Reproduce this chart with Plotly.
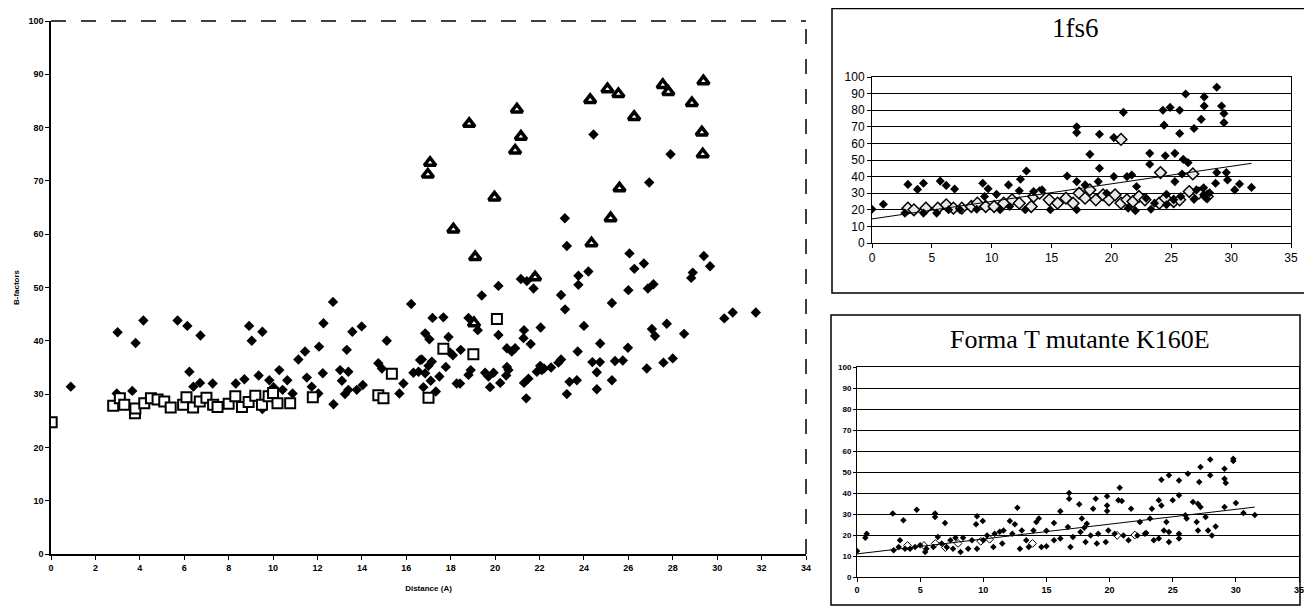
import plotly.graph_objects as go

# ---------------- main chart data ----------------
main_dia_x = [0.89, 2.96, 3.0, 4.16, 3.81, 3.66, 5.7, 6.14, 6.73, 6.23, 6.41, 6.71, 7.28, 8.32, 8.71, 8.92, 9.04, 9.52,
              9.35, 9.52, 9.83, 10.02, 10.28, 10.17, 10.43, 10.64, 10.88, 11.14, 11.44, 11.52, 11.74, 12.07, 12.24, 12.27,
              12.04, 12.72, 13.02, 13.1, 13.32, 13.39, 13.24, 13.39, 13.57, 13.77, 13.99, 14.04, 14.74, 14.9, 15.12, 15.69,
              15.87, 16.22, 16.32, 16.62, 12.7,
              17.18, 17.67, 18.8, 19.22, 16.85, 17.04, 17.9, 17.97, 18.1, 18.45, 16.7, 17.15, 17.0, 16.55, 16.85, 17.78,
              17.49, 17.1, 16.77, 17.33, 18.27, 18.42, 18.8, 18.9, 19.55, 19.7, 19.93, 19.77, 20.23, 20.15, 20.53, 20.75,
              20.9, 20.53, 20.6, 20.5, 21.3, 21.28, 21.6, 21.3, 21.5, 21.4, 21.88, 22.03, 22.1, 22.2, 22.05, 22.52, 22.85,
              22.97, 23.15, 23.35, 23.23, 23.68, 23.72, 24.0, 24.38, 24.72, 24.58, 24.58, 24.73, 25.26, 25.26, 25.4, 25.75,
              25.98, 26.83, 27.06, 27.2, 27.58, 27.73, 28.0, 28.51, 30.32, 30.7, 31.74,
              24.43, 27.9, 26.94, 23.14, 23.23, 26.05, 29.4, 29.68, 26.27, 26.7, 24.2, 23.75, 23.75, 21.16, 21.43, 21.73,
              20.15, 19.4, 22.97, 26.0, 26.88, 27.13, 28.83, 28.9]
main_dia_y = [31.4, 30.1, 41.6, 43.8, 39.6, 30.6, 43.8, 42.8, 41.0, 34.2, 31.4, 32.1, 32.0, 32.0, 32.8, 42.8, 40.0, 41.7,
              33.5, 27.2, 32.6, 31.3, 34.5, 28.3, 30.8, 32.6, 30.1, 36.5, 38.0, 33.1, 31.4, 38.9, 33.9, 43.3,
              30.1, 28.1, 34.5, 32.5, 38.3, 34.2, 30.0, 30.8, 41.7, 30.8, 42.7, 31.7, 35.8, 34.8, 40.0, 30.1,
              32.0, 46.9, 34.0, 36.4, 47.3,
              44.3, 44.4, 44.3, 42.0, 41.4, 40.3, 40.7, 37.8, 37.3, 38.3, 36.5, 36.1, 35.3, 34.2, 33.9, 35.1,
              33.3, 32.5, 31.3, 30.5, 32.0, 32.0, 33.6, 34.5, 34.0, 33.3, 34.0, 31.3, 32.1, 41.1, 38.6, 38.0,
              38.6, 35.1, 34.5, 33.5, 42.0, 40.5, 39.4, 32.1, 32.9, 29.2, 34.2, 35.3, 34.5, 34.8, 42.5, 35.0, 35.9,
              36.5, 45.9, 32.3, 30.0, 32.6, 38.0, 42.8, 36.0, 36.0, 34.1, 30.9, 39.5, 47.1, 32.6, 36.2, 36.3,
              38.7, 34.8, 42.2, 40.9, 35.9, 43.2, 36.7, 41.3, 44.2, 45.3, 45.3,
              78.7, 75.0, 69.7, 63.0, 57.8, 56.4, 55.9, 54.0, 53.5, 54.5, 53.0, 52.2, 50.5, 51.6, 51.2, 49.8,
              50.3, 48.5, 48.6, 49.5, 49.8, 50.6, 51.8, 52.8]

main_tri_x = [17.07, 16.97, 18.83, 20.98, 21.16, 20.9, 19.97, 18.12, 19.1, 21.8, 24.28, 25.06, 25.55, 26.26, 27.55,
              27.8, 28.86, 29.38, 29.31, 29.35, 25.6, 25.2, 24.34, 19.05]
main_tri_y = [73.4, 71.2, 80.7, 83.4, 78.3, 75.7, 66.9, 60.9, 55.7, 51.9, 85.2, 87.2, 86.3, 82.0, 88.0,
              86.7, 84.6, 88.7, 79.1, 75.0, 68.6, 63.0, 58.3, 43.3]

main_sq_x = [0.03, 2.8, 3.1, 3.3, 3.78, 3.8, 4.2, 4.5, 4.8, 5.1, 5.39, 5.95, 6.1, 6.4, 6.7, 7.0, 7.3, 7.5, 8.0, 8.3,
             8.6, 8.9, 9.2, 9.5, 9.8, 10.0, 10.2, 10.77, 11.79, 14.74, 14.97, 15.35, 17.0, 17.67, 19.02, 20.08]
main_sq_y = [24.7, 27.8, 29.2, 28.0, 26.4, 27.3, 28.3, 29.2, 29.0, 28.6, 27.5, 28.0, 29.4, 27.5, 28.6, 29.3, 28.0, 27.6,
             28.2, 29.6, 27.6, 28.5, 29.7, 28.0, 29.6, 30.2, 28.3, 28.3, 29.4, 29.8, 29.2, 33.8, 29.3, 38.5, 37.5, 44.1]

main_x_ticks = list(range(0, 35, 2))
main_y_ticks = list(range(0, 101, 10))

# ---------------- 1fs6 panel data ----------------
top_title = "1fs6"
top_dia_x = [0, 0.95, 3.0, 3.8, 4.3, 5.7, 6.2, 6.9, 9.25, 9.7, 10.4, 11.4, 12.4, 12.9, 12.3, 16.3, 17.1, 17.1, 18.2,
             19.0, 19.0, 20.2, 21.0, 20.2, 21.7, 23.2, 23.2, 24.3, 24.9, 25.7, 26.2, 24.4, 24.5, 25.3, 25.7, 26.0,
             26.4, 26.9, 27.5, 27.75, 27.75, 28.8, 29.2, 29.4, 29.4, 28.8, 29.6, 29.7, 30.3, 30.7, 31.7, 28.7, 28.2,
             27.9, 27.1, 26.9, 25.8, 25.3, 25.9, 25.2, 23.3, 22.9, 22.1, 21.3, 21.4, 19.6, 18.9, 17.8, 17.1, 17.1,
             14.9, 14.2, 13.5, 12.8, 11.5, 10.7, 9.4, 8.75, 7.35, 6.4, 5.4, 4.3, 2.75, 23.6, 24.6, 24.6, 27.7, 27.7,
             22.0]
top_dia_y = [20.3, 23.3, 35.3, 32.3, 36, 37.3, 34.7, 32.5, 36, 32.7, 29.3, 35, 38.4, 43.4, 31.5, 40.4, 70, 66.5, 53.4,
             65.5, 45, 63.5, 78.7, 40, 41, 54, 47.4, 80, 81.7, 80, 89.8, 71, 52.6, 54, 66, 50.4,
             48.4, 69, 74.5, 88, 82.5, 93.8, 82.5, 78, 72.5, 42.4, 42.4, 38, 32, 35.5, 33.5, 36, 30.3,
             27, 32, 26.3, 28, 37, 41.6, 26, 20.3, 27, 34, 40, 21, 30, 37, 35, 20, 37,
             20, 32, 31, 20, 22, 20, 28, 20.3, 20, 20, 18, 18, 18, 24, 23, 29.3, 33.3, 29,
             19.5]
top_open_x = [3.0, 3.5, 4.5, 5.5, 6.2, 6.8, 7.5, 8.3, 8.8, 9.5, 10.2, 11.0, 11.7, 12.3, 13.3, 13.5, 14.0, 14.8, 15.5,
              16.2, 16.8, 17.3, 17.8, 18.2, 18.7, 19.3, 19.8, 20.3, 20.8, 21.3, 21.8, 22.3, 22.8, 24.0, 24.5, 25.2,
              25.7, 26.5, 27.3, 28.0, 24.1, 26.8, 20.8]
top_open_y = [21, 20, 21, 21, 23, 21, 21, 22, 24, 22, 22, 24, 26, 24, 22, 28, 30, 26, 24,
              27, 24, 30, 27, 32, 26, 29, 26, 29, 24, 26, 25, 28, 26, 24, 27, 25,
              26, 31, 30, 28, 42.4, 41.6, 62.4]
top_trend_x = [0, 31.7]
top_trend_y = [14.5, 48]

# ---------------- Forma T mutante K160E panel data ----------------
bot_title = "Forma T mutante K160E"
bot_dia_x = [0, 0.66, 0.77, 2.83, 3.67, 4.73, 6.18, 6.18, 6.97, 9.5, 9.96, 9.43, 12.7, 12.1, 12.5, 14.4, 14.2, 16.1,
             15.6, 16.8, 16.8, 17.6, 17.8, 18.2, 18.7, 18.9, 19.8, 19.8, 19.8, 20.8, 20.7, 20.97, 21.7, 22.4, 23.35,
             23.2, 24.1, 23.9, 24.1, 24.7, 25.0, 25.5, 25.5, 26.2, 27.2, 27.1, 27.97, 27.97, 29.1, 29.1, 29.2, 29.8,
             29.8, 30.0, 29.1, 26.6, 26.99, 27.2, 27.6, 28.4, 27.8, 28.1, 26.9, 27.0, 26.0, 26.1, 25.5, 25.5, 24.7,
             24.7, 24.5, 24.3, 23.9, 23.5, 22.8, 22.2, 21.5, 21.1, 20.4, 19.9, 19.7, 18.99, 19.1, 18.5, 18.1, 17.7,
             17.1, 16.9, 16.7, 16.1, 15.6, 15.0, 14.6, 13.97, 13.4, 13.6, 12.9, 13.05, 12.3, 11.6, 11.5, 10.9, 10.3,
             10.8, 10.0, 9.5, 9.1, 8.8, 8.4, 7.8, 7.4, 7.1, 6.7, 6.4, 6.05, 5.5, 5.4, 5.0, 4.6, 4.2, 3.8, 3.4, 3.3,
             2.9, 8.2, 7.6, 30.6, 31.5, 11.3, 15.0, 22.9, 18.0]
bot_dia_y = [12.4, 18.7, 20.6, 30.2, 27, 32, 30.2, 28.6, 25.7, 28.9, 26.7, 25.1, 33, 26.7, 25.1, 27.8, 26.2, 31.3,
             25.7, 40, 37.3, 34.6, 27.8, 25.4, 32.5, 37.3, 38.4, 34.1, 31.4, 42.5, 36.5, 36.2, 32.5, 26.2, 32.5,
             27.8, 46.3, 36.5, 34.1, 48.4, 36.5, 46, 38.9, 49.2, 52.4, 45.2, 55.9, 48.4, 51.6, 46.8, 44.8, 56.3,
             55.2, 35.2, 33.3, 35.7, 34.9, 33.3, 28.6, 24.1, 22.2, 19.8, 26.2, 22.2, 29.4, 27.8, 20.6, 18.3, 21.4,
             16.7, 26.2, 22.2, 18.3, 17.5, 20.6, 19.8, 17.5, 19.8, 20.6, 22.2, 16.7, 15.9, 20.6, 19.8, 16.7, 21.4,
             19, 14.3, 23.8, 18.3, 17.5, 14.6, 14.3, 22.2, 17.5, 14.3, 13.5, 22.2, 20.6, 22.2, 15.9, 20.6, 19.8,
             14.3, 17.5, 13.5, 17.5, 13.5, 18.7, 18.7, 17.5, 14.3, 15.9, 19, 14.3, 13.5, 11.9, 15.1, 14.3, 13.5, 13.5, 17.5, 14.3,
             12.7, 11.9, 13.5, 30.5, 29.5, 21.5, 22.0, 21.0, 23.5]
bot_open_x = [4.0, 5.3, 6.2, 7.0, 8.0, 9.8, 10.5, 13.9, 20.6, 22.0]
bot_open_y = [15, 15, 16, 14, 16, 17, 18, 16, 19.8, 20]
bot_trend_x = [0, 31.5]
bot_trend_y = [11.0, 33.3]

right_x_ticks = list(range(0, 36, 5))
right_y_ticks = list(range(0, 101, 10))

# ---------------- figure ----------------
OFF = 8  # the page body has an 8px margin
W, H = 1312 - OFF, 606 - OFF
def px(x):
    return (x - OFF) / W
def py(y):
    return 1 - (y - OFF) / H

fig = go.Figure()

# main chart
fig.add_trace(go.Scatter(x=main_dia_x, y=main_dia_y, mode="markers",
                         marker=dict(symbol="diamond", size=8, color="black"),
                         xaxis="x", yaxis="y", showlegend=False))
fig.add_trace(go.Scatter(x=main_sq_x, y=main_sq_y, mode="markers",
                         marker=dict(symbol="square", size=10, color="white", line=dict(color="black", width=2)),
                         xaxis="x", yaxis="y", showlegend=False))
fig.add_trace(go.Scatter(x=main_tri_x, y=main_tri_y, mode="markers",
                         marker=dict(symbol="triangle-up", size=10, color="white", line=dict(color="black", width=3.5)),
                         xaxis="x", yaxis="y", showlegend=False))

# top-right panel
fig.add_trace(go.Scatter(x=top_open_x, y=top_open_y, mode="markers",
                         marker=dict(symbol="diamond", size=9, color="#e8e8e8", line=dict(color="black", width=1.5)),
                         xaxis="x2", yaxis="y2", showlegend=False))
fig.add_trace(go.Scatter(x=top_dia_x, y=top_dia_y, mode="markers",
                         marker=dict(symbol="diamond", size=7, color="black"),
                         xaxis="x2", yaxis="y2", showlegend=False))
fig.add_trace(go.Scatter(x=top_trend_x, y=top_trend_y, mode="lines",
                         line=dict(color="black", width=1),
                         xaxis="x2", yaxis="y2", showlegend=False))

# bottom-right panel
fig.add_trace(go.Scatter(x=bot_open_x, y=bot_open_y, mode="markers",
                         marker=dict(symbol="diamond", size=6, color="white", line=dict(color="black", width=1)),
                         xaxis="x3", yaxis="y3", showlegend=False))
fig.add_trace(go.Scatter(x=bot_dia_x, y=bot_dia_y, mode="markers",
                         marker=dict(symbol="diamond", size=5, color="black"),
                         xaxis="x3", yaxis="y3", showlegend=False))
fig.add_trace(go.Scatter(x=bot_trend_x, y=bot_trend_y, mode="lines",
                         line=dict(color="black", width=1),
                         xaxis="x3", yaxis="y3", showlegend=False))

mid_font = dict(family="Liberation Sans, Arial", size=12, color="black")
bold9 = dict(family="Liberation Sans, Arial", size=9, color="black", weight="bold")

fig.update_layout(
    width=W, height=H, margin=dict(l=0, r=0, t=0, b=0, autoexpand=False),
    paper_bgcolor="white", plot_bgcolor="white",
    xaxis=dict(domain=[px(51), px(806)], range=[0, 34], tickvals=main_x_ticks, showgrid=False, zeroline=False,
               showline=True, linecolor="black", linewidth=1.5, mirror=False, ticks="outside", ticklen=4,
               tickcolor="black", tickfont=bold9, automargin=False,
               title=dict(text="Distance (A)", font=dict(family="Liberation Sans, Arial", size=8, color="black", weight="bold"),
                          standoff=14),
               anchor="y"),
    yaxis=dict(domain=[py(554), py(21)], range=[0, 100], tickvals=main_y_ticks, showgrid=False, zeroline=False,
               showline=True, linecolor="black", linewidth=1.5, mirror=False, ticks="outside", ticklen=4,
               tickcolor="black", tickfont=bold9, automargin=False,
               title=dict(text="B-factors", font=dict(family="Liberation Sans, Arial", size=8, color="black", weight="bold"),
                          standoff=8),
               anchor="x"),
    xaxis2=dict(domain=[px(872), px(1291)], range=[0, 35], tickvals=right_x_ticks, showgrid=False, zeroline=False,
                showline=True, linecolor="black", linewidth=1, mirror=True, ticks="outside", ticklen=4,
                tickcolor="black", tickfont=mid_font, anchor="y2", automargin=False),
    yaxis2=dict(domain=[py(243), py(77)], range=[0, 100], tickvals=right_y_ticks, showgrid=True, gridcolor="black",
                gridwidth=1, zeroline=False, showline=True, linecolor="black", linewidth=1, mirror=True,
                ticks="outside", ticklen=4, tickcolor="black", tickfont=mid_font, anchor="x2", automargin=False),
    xaxis3=dict(domain=[px(857), px(1299)], range=[0, 35], tickvals=right_x_ticks, showgrid=False, zeroline=False,
                showline=True, linecolor="black", linewidth=1, mirror=True, ticks="outside", ticklen=4,
                tickcolor="black", tickfont=bold9, anchor="y3", automargin=False),
    yaxis3=dict(domain=[py(577), py(367)], range=[0, 100], tickvals=right_y_ticks, showgrid=True, gridcolor="black",
                gridwidth=1, zeroline=False, showline=True, linecolor="black", linewidth=1, mirror=True,
                ticks="outside", ticklen=3, tickcolor="black",
                tickfont=dict(family="Liberation Sans, Arial", size=8, color="black", weight="bold"), anchor="x3",
                automargin=False),
    shapes=[
        # dashed top & right border of the main plot (scanned look)
        dict(type="line", xref="x domain", yref="y domain", x0=0, x1=1, y0=1, y1=1,
             line=dict(color="black", width=1.5, dash="longdash")),
        dict(type="line", xref="x domain", yref="y domain", x0=1, x1=1, y0=0, y1=1,
             line=dict(color="black", width=1.5, dash="longdash")),
        dict(type="rect", xref="paper", yref="paper", x0=px(832), x1=px(1307), y0=py(293), y1=py(8.5),
             line=dict(color="black", width=1.5)),
        dict(type="rect", xref="paper", yref="paper", x0=px(831), x1=px(1300), y0=py(605), y1=py(315),
             line=dict(color="black", width=1.5)),
    ],
    annotations=[
        dict(text=top_title, xref="paper", yref="paper", x=px(1075), y=py(28), showarrow=False,
             xanchor="center", yanchor="middle",
             font=dict(family="Liberation Serif, Times New Roman", size=27, color="black")),
        dict(text=bot_title, xref="paper", yref="paper", x=px(1080), y=py(339), showarrow=False,
             xanchor="center", yanchor="middle",
             font=dict(family="Liberation Serif, Times New Roman", size=26, color="black")),
    ],
)

fig.write_html("out.html")
